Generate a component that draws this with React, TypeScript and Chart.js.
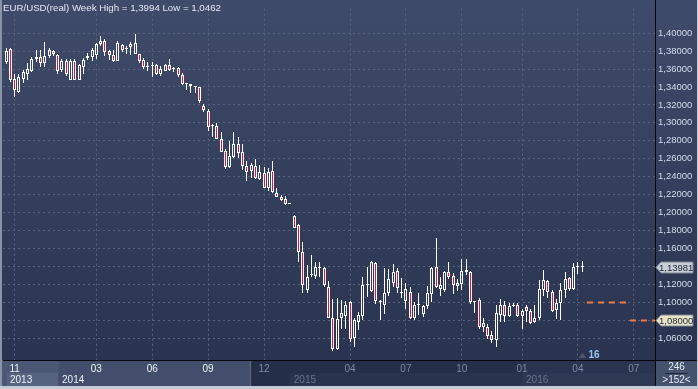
import React, { useEffect, useRef } from 'react';
import { Chart, registerables } from 'chart.js';
Chart.register(...registerables);

const FONT = '"Liberation Sans", Arial, sans-serif';

const titleText = 'EUR/USD(real) Week High = 1,3994 Low = 1,0462';

const openP = [
  1.3674, 1.3819, 1.3493, 1.3348, 1.3493, 1.3547, 1.3583, 1.3710, 1.3735, 1.3663,
  1.3746, 1.3801, 1.3757, 1.3591, 1.3692, 1.3482, 1.3692, 1.3482, 1.3620, 1.3721,
  1.3735, 1.3757, 1.3873, 1.3909, 1.3801, 1.3757, 1.3692, 1.3866, 1.3826, 1.3844,
  1.3772, 1.3764, 1.3699, 1.3620, 1.3640, 1.3649, 1.3547, 1.3583, 1.3649, 1.3601,
  1.3612, 1.3529, 1.3431, 1.3431, 1.3405, 1.3395, 1.3192, 1.3131, 1.2968, 1.2968,
  1.2823, 1.2685, 1.2504, 1.2623, 1.2761, 1.2670, 1.2515, 1.2460, 1.2522, 1.2370,
  1.2442, 1.2272, 1.2460, 1.2214, 1.2170, 1.2152, 1.2098, 1.1960, 1.1862, 1.1562,
  1.1138, 1.1301, 1.1290, 1.1384, 1.1380, 1.1174, 1.0830, 1.0486, 1.0823, 1.0848,
  1.1000, 1.0605, 1.0786, 1.0848, 1.1192, 1.1127, 1.1438, 1.1000, 1.0968, 1.1109,
  1.1217, 1.1355, 1.1112, 1.1018, 1.1112, 1.0830, 1.0968, 1.0866, 1.0957, 1.1091,
  1.1391, 1.1149, 1.1138, 1.1344, 1.1293, 1.1181, 1.1210, 1.1362, 1.1344, 1.1000,
  1.1029, 1.0721, 1.0728, 1.0641, 1.0583, 1.0859, 1.0968, 1.0848, 1.0957, 1.0968,
  1.0848, 1.0946, 1.0909, 1.0786, 1.0822, 1.1138, 1.1235, 1.1112, 1.0920, 1.0993,
  1.1138, 1.1272, 1.1149, 1.1391, 1.1393,
];
const highP = [
  1.3837, 1.3830, 1.3547, 1.3547, 1.3591, 1.3663, 1.3735, 1.3808, 1.3808, 1.3902,
  1.3830, 1.3808, 1.3764, 1.3710, 1.3710, 1.3710, 1.3710, 1.3656, 1.3721, 1.3783,
  1.3830, 1.3891, 1.3964, 1.3938, 1.3808, 1.3808, 1.3909, 1.3873, 1.3855, 1.3902,
  1.3994, 1.3772, 1.3721, 1.3674, 1.3674, 1.3656, 1.3638, 1.3656, 1.3707, 1.3627,
  1.3620, 1.3554, 1.3449, 1.3438, 1.3410, 1.3402, 1.3214, 1.3156, 1.2986, 1.3004,
  1.2902, 1.2714, 1.2794, 1.2895, 1.2841, 1.2768, 1.2576, 1.2551, 1.2598, 1.2533,
  1.2504, 1.2496, 1.2576, 1.2272, 1.2199, 1.2185, 1.2100, 1.1978, 1.1873, 1.1674,
  1.1420, 1.1530, 1.1450, 1.1446, 1.1391, 1.1236, 1.1040, 1.1047, 1.1022, 1.1018,
  1.1018, 1.0830, 1.0895, 1.1283, 1.1391, 1.1464, 1.1446, 1.1022, 1.1380, 1.1373,
  1.1427, 1.1380, 1.1272, 1.1221, 1.1174, 1.1004, 1.1101, 1.0968, 1.1181, 1.1391,
  1.1717, 1.1283, 1.1355, 1.1453, 1.1330, 1.1257, 1.1482, 1.1489, 1.1355, 1.1011,
  1.1054, 1.0822, 1.0757, 1.0685, 1.0975, 1.1040, 1.1018, 1.0993, 1.0993, 1.0993,
  1.0931, 1.0975, 1.0931, 1.0968, 1.1246, 1.1366, 1.1246, 1.1138, 1.1040, 1.1217,
  1.1337, 1.1283, 1.1438, 1.1453, 1.1464,
];
const lowP = [
  1.3656, 1.3457, 1.3287, 1.3337, 1.3439, 1.3482, 1.3565, 1.3674, 1.3627, 1.3627,
  1.3721, 1.3746, 1.3547, 1.3565, 1.3518, 1.3475, 1.3475, 1.3475, 1.3547, 1.3699,
  1.3692, 1.3710, 1.3855, 1.3746, 1.3699, 1.3674, 1.3685, 1.3793, 1.3772, 1.3757,
  1.3764, 1.3663, 1.3601, 1.3583, 1.3511, 1.3529, 1.3518, 1.3576, 1.3583, 1.3565,
  1.3511, 1.3420, 1.3366, 1.3330, 1.3330, 1.3221, 1.3124, 1.2913, 1.2841, 1.2815,
  1.2670, 1.2489, 1.2496, 1.2605, 1.2612, 1.2478, 1.2352, 1.2388, 1.2370, 1.2359,
  1.2272, 1.2243, 1.2218, 1.2170, 1.2134, 1.2087, 1.2094, 1.1827, 1.1450, 1.1101,
  1.1101, 1.1282, 1.1265, 1.1283, 1.1170, 1.0823, 1.0462, 1.0467, 1.0703, 1.0703,
  1.0558, 1.0504, 1.0696, 1.0801, 1.1065, 1.1120, 1.0982, 1.0804, 1.0873, 1.1076,
  1.1174, 1.1101, 1.1047, 1.0931, 1.0812, 1.0801, 1.0859, 1.0837, 1.0931, 1.1004,
  1.1156, 1.1076, 1.1112, 1.1257, 1.1091, 1.1127, 1.1138, 1.1301, 1.0982, 1.0884,
  1.0703, 1.0667, 1.0594, 1.0547, 1.0504, 1.0786, 1.0786, 1.0837, 1.0946, 1.0837,
  1.0703, 1.0786, 1.0764, 1.0775, 1.0801, 1.1076, 1.1054, 1.0895, 1.0812, 1.0801,
  1.1047, 1.1127, 1.1138, 1.1319, 1.1337,
];
const closeP = [
  1.3801, 1.3475, 1.3366, 1.3511, 1.3565, 1.3601, 1.3710, 1.3739, 1.3663, 1.3746,
  1.3808, 1.3764, 1.3583, 1.3692, 1.3547, 1.3685, 1.3482, 1.3649, 1.3699, 1.3746,
  1.3808, 1.3880, 1.3916, 1.3793, 1.3757, 1.3692, 1.3891, 1.3808, 1.3837, 1.3880,
  1.3891, 1.3692, 1.3627, 1.3638, 1.3636, 1.3547, 1.3601, 1.3649, 1.3591, 1.3598,
  1.3529, 1.3431, 1.3428, 1.3410, 1.3402, 1.3239, 1.3138, 1.2949, 1.2960, 1.2823,
  1.2678, 1.2504, 1.2634, 1.2761, 1.2660, 1.2515, 1.2453, 1.2526, 1.2388, 1.2453,
  1.2279, 1.2453, 1.2225, 1.2178, 1.2141, 1.2091, 1.2096, 1.1834, 1.1562, 1.1192,
  1.1280, 1.1308, 1.1391, 1.1380, 1.1192, 1.0830, 1.0486, 1.0812, 1.0884, 1.0975,
  1.0594, 1.0804, 1.0859, 1.1199, 1.1196, 1.1446, 1.1011, 1.1004, 1.1109, 1.1257,
  1.1344, 1.1163, 1.1110, 1.1149, 1.0822, 1.0975, 1.0966, 1.0957, 1.1109, 1.1380,
  1.1174, 1.1192, 1.1337, 1.1283, 1.1192, 1.1217, 1.1355, 1.1337, 1.1004, 1.1002,
  1.0728, 1.0775, 1.0630, 1.0583, 1.0877, 1.0975, 1.0848, 1.0957, 1.0955, 1.0848,
  1.0909, 1.0909, 1.0775, 1.0822, 1.1149, 1.1246, 1.1112, 1.0909, 1.0993, 1.1138,
  1.1257, 1.1149, 1.1391, 1.1393, 1.13981,
];

const yTickValues = [1.06, 1.08, 1.10, 1.12, 1.14, 1.16, 1.18, 1.20, 1.22, 1.24, 1.26, 1.28, 1.30, 1.32, 1.34, 1.36, 1.38, 1.40];
const monthTickIdx = [2, 21, 34, 47, 60, 80, 93, 106, 120, 133, 146];
const monthLabels = ['11', '03', '06', '09', '12', '04', '07', '10', '01', '04', '07'];
const brightMonthCount = 4;
const yearLabels = ['2013', '2014', '2015', '2016'];
const yearStartIdx = [-0.7, 12.1, 66, 120];
const activeEndIdx = 56.9;
const levelPrice = 1.08;
const levelLabel = '1,08000';
const targetLine = [{ x: 135.1, y: 1.10 }, { x: 145.1, y: 1.10 }];
const levelLine = [{ x: 145.1, y: 1.08 }, { x: 150.93, y: 1.08 }];
const barsTotal = '246';
const barsVisible = '>152<';
const markerLabel = '16';
const markerIdx = 134;

const X_MIN = -0.7;
const X_MAX = 150.93;
const Y_MIN = 1.03587;
const Y_MAX = 1.42717;

const fmt = (v: number) => v.toFixed(5).replace('.', ',');

export default function App() {
  const ref = useRef<HTMLCanvasElement>(null);

  useEffect(() => {
    document.body.style.margin = '0';
    const canvas = ref.current!;
    const idx = openP.map((_, i) => i);
    const bodyData = idx.map(i => ({ x: i, y: [Math.min(openP[i], closeP[i]), Math.max(openP[i], closeP[i])] }));
    const bodyColors = idx.map(i => (closeP[i] < openP[i] ? '#e3123a' : 'rgba(0,0,0,0)'));
    const wickHi = idx.map(i => ({ x: i, y: [Math.max(openP[i], closeP[i]), highP[i]] }));
    const wickLo = idx.map(i => ({ x: i, y: [lowP[i], Math.min(openP[i], closeP[i])] }));
    const lastClose = closeP[closeP.length - 1];

    const fillR = (ctx: CanvasRenderingContext2D, x0: number, y0: number, x1: number, y1: number, c: string) => {
      ctx.fillStyle = c;
      ctx.fillRect(x0, y0, x1 - x0, y1 - y0);
    };

    // snap bar elements to whole device pixels for crisp candles
    const snapPlugin = {
      id: 'snapPlugin',
      beforeDatasetsDraw(chart: any) {
        chart.data.datasets.forEach((ds: any, di: number) => {
          if (ds.type === 'line') return;
          const meta = chart.getDatasetMeta(di);
          const isBody = di === 2;
          meta.data.forEach((el: any) => {
            el.x = Math.floor(el.x) + 0.5;
            let y = Math.round(el.y);
            let b = Math.round(el.base);
            if (isBody && Math.abs(y - b) < 1) b = y + 1;
            el.y = y;
            el.base = b;
          });
        });
      },
    };

    const bgPlugin = {
      id: 'bgPlugin',
      beforeDraw(chart: any) {
        const { ctx, chartArea: ca, scales } = chart;
        const xs = scales.x;
        const W = chart.width, H = chart.height;
        ctx.save();
        const g = ctx.createLinearGradient(0, 0, 0, ca.bottom);
        g.addColorStop(0, '#3f4b6a');
        g.addColorStop(1, '#2a3450');
        ctx.fillStyle = g;
        ctx.fillRect(0, 0, W, ca.bottom);
        const top = ca.bottom, mid = top + 13, bot = H - 3;
        const px = (v: number) => xs.getPixelForValue(v);
        const x2014 = px(yearStartIdx[1]);
        const xAct = px(activeEndIdx);
        const x2015 = px(yearStartIdx[2]);
        const x2016 = px(yearStartIdx[3]);
        fillR(ctx, 0, top, x2014, bot, '#4a5775');
        fillR(ctx, x2014, top, xAct, bot, '#424e6c');
        fillR(ctx, xAct, top, x2016, bot, '#252e48');
        fillR(ctx, x2015, mid, x2016, bot, '#2a334e');
        fillR(ctx, x2016, top, ca.right, bot, '#2a3350');
        fillR(ctx, x2016, mid, ca.right, bot, '#2e3853');
        fillR(ctx, ca.left + 4, mid, x2014, bot, '#56637f');
        fillR(ctx, ca.right, top, W, bot, '#45526e');
        ctx.restore();
      },
      afterDraw(chart: any) {
        const { ctx, chartArea: ca, scales } = chart;
        const xs = scales.x, ys = scales.y;
        const W = chart.width, H = chart.height;
        const top = ca.bottom, mid = top + 13, bot = H - 3;
        ctx.save();
        // title
        ctx.font = `9.7px ${FONT}`;
        ctx.fillStyle = '#e2e8f3';
        ctx.textAlign = 'left';
        ctx.textBaseline = 'middle';
        ctx.fillText(titleText, 3, 8);
        // year labels
        ctx.font = `10px ${FONT}`;
        yearLabels.forEach((t, i) => {
          const x = i === 0 ? ca.left + 7 : xs.getPixelForValue(yearStartIdx[i]) + 4;
          ctx.fillStyle = i < 2 ? '#eef2f9' : '#66748f';
          ctx.fillText(t, x, (mid + bot) / 2 + 0.5);
        });
        // corner box
        ctx.textAlign = 'center';
        ctx.fillStyle = '#e6ebf4';
        const cx = (ca.right + W) / 2;
        ctx.fillText(barsTotal, cx, top + 7);
        ctx.fillText(barsVisible, cx, top + 20);
        ctx.fillStyle = '#1f273a';
        ctx.fillRect(cx - 11, top + 13, 22, 1);
        // axis lines
        ctx.fillStyle = '#05070c';
        ctx.fillRect(ca.right, 0, 1, bot);
        ctx.fillRect(ca.left, top, W - ca.left, 1);
        // marker
        const mx = Math.floor(xs.getPixelForValue(markerIdx)) + 0.5;
        ctx.fillStyle = '#4f5666';
        ctx.beginPath();
        ctx.moveTo(mx - 4, top - 2);
        ctx.lineTo(mx + 4, top - 2);
        ctx.lineTo(mx, top - 7);
        ctx.closePath();
        ctx.fill();
        ctx.font = `bold 10px ${FONT}`;
        ctx.fillStyle = '#9cc3f0';
        ctx.textAlign = 'left';
        ctx.textBaseline = 'middle';
        ctx.fillText(markerLabel, mx + 6, top - 5);
        // tags
        const tag = (price: number, text: string, bg: string) => {
          const y = Math.round(ys.getPixelForValue(price)) + 0.5;
          const x0 = ca.right + 1;
          ctx.beginPath();
          ctx.moveTo(x0, y);
          ctx.lineTo(x0 + 5, y - 5.5);
          ctx.lineTo(W - 5, y - 5.5);
          ctx.lineTo(W - 5, y + 5.5);
          ctx.lineTo(x0 + 5, y + 5.5);
          ctx.closePath();
          ctx.fillStyle = bg;
          ctx.fill();
          ctx.strokeStyle = '#7d8594';
          ctx.lineWidth = 1;
          ctx.stroke();
          ctx.font = `9.5px ${FONT}`;
          ctx.fillStyle = '#1b2332';
          ctx.textAlign = 'left';
          ctx.textBaseline = 'middle';
          ctx.fillText(text, x0 + 3, y + 0.5);
        };
        tag(lastClose, fmt(lastClose), '#c9cdd5');
        tag(levelPrice, levelLabel, '#e8e5c8');
        // frame
        ctx.fillStyle = '#8a94a8';
        ctx.fillRect(0, 0, 2, H);
        ctx.fillStyle = '#c5cbd5';
        ctx.fillRect(0, bot, W, H - bot);
        ctx.fillRect(W - 1, 0, 1, H);
        ctx.restore();
      },
    };

    const gridColor = '#56647f';

    const chart = new Chart(canvas, {
      type: 'bar',
      data: {
        datasets: [
          {
            type: 'line',
            data: targetLine,
            borderColor: '#ef7b45',
            borderWidth: 2,
            borderDash: [6, 5],
            pointRadius: 0,
            order: 0,
          } as any,
          {
            type: 'line',
            data: levelLine,
            borderColor: '#ef7b45',
            borderWidth: 2,
            borderDash: [6, 5],
            pointRadius: 0,
            order: 0,
          } as any,
          {
            data: bodyData as any,
            backgroundColor: bodyColors,
            borderColor: '#ffffff',
            borderWidth: 1,
            borderSkipped: false,
            barThickness: 3,
            minBarLength: 1,
            inflateAmount: 0,
            grouped: false,
            order: 1,
          } as any,
          {
            data: wickHi as any,
            backgroundColor: '#ffffff',
            borderWidth: 0,
            barThickness: 1,
            inflateAmount: 0,
            grouped: false,
            order: 2,
          } as any,
          {
            data: wickLo as any,
            backgroundColor: '#ffffff',
            borderWidth: 0,
            barThickness: 1,
            inflateAmount: 0,
            grouped: false,
            order: 2,
          } as any,
        ],
      },
      options: {
        animation: false,
        responsive: false,
        devicePixelRatio: 1,
        events: [],
        layout: { padding: { left: 3, top: 0, right: 0, bottom: 0 } },
        plugins: { legend: { display: false }, tooltip: { enabled: false }, title: { display: false } },
        scales: {
          x: {
            type: 'linear',
            position: 'bottom',
            min: X_MIN,
            max: X_MAX,
            offset: false,
            afterFit: (s: any) => { s.height = 29; },
            afterBuildTicks: (s: any) => { s.ticks = monthTickIdx.map(v => ({ value: v })); },
            ticks: {
              autoSkip: false,
              maxRotation: 0,
              minRotation: 0,
              padding: 3,
              font: { family: FONT, size: 10 },
              color: (c: any) => (c.index < brightMonthCount ? '#eef2f9' : '#7d8aa3'),
              callback: (_v: any, i: number) => monthLabels[i],
            },
            grid: { color: gridColor, drawTicks: false, offset: false, lineWidth: 1 },
            border: { display: false, dash: [2, 3] },
          } as any,
          y: {
            type: 'linear',
            position: 'right',
            min: Y_MIN,
            max: Y_MAX,
            beginAtZero: false,
            afterFit: (s: any) => { s.width = 43; },
            afterBuildTicks: (s: any) => { s.ticks = yTickValues.map(v => ({ value: v })); },
            ticks: {
              padding: 3,
              font: { family: FONT, size: 9.5 },
              color: '#d3dbea',
              callback: (v: any) => fmt(Number(v)),
            },
            grid: { color: gridColor, drawTicks: false, lineWidth: 1 },
            border: { display: false, dash: [2, 3] },
          } as any,
        },
      },
      plugins: [bgPlugin as any, snapPlugin as any],
    } as any);
    return () => chart.destroy();
  }, []);

  return (
    <div style={{ position: 'fixed', left: 0, top: 0, width: 698, height: 389 }}>
      <canvas ref={ref} width={698} height={389} style={{ display: 'block', width: 698, height: 389 }} />
    </div>
  );
}
